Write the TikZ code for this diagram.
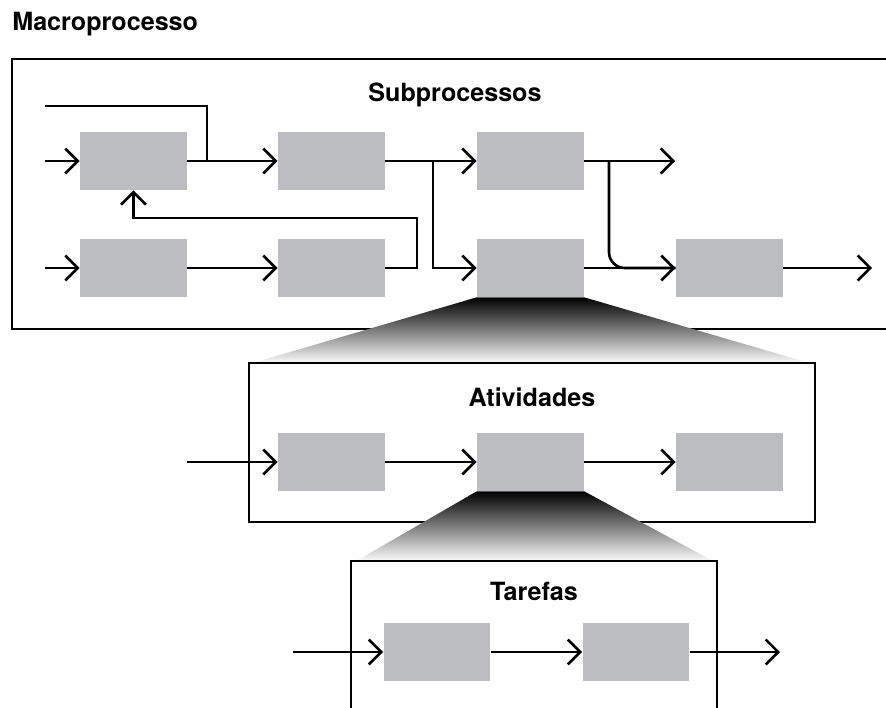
\documentclass[tikz,border=0pt]{standalone}
\usepackage{fontspec}
\setmainfont{TeX Gyre Heros}
\usetikzlibrary{arrows.meta}
\definecolor{boxgray}{RGB}{188,189,192}
\tikzset{
    box/.style={fill=boxgray, minimum width=2.14cm, minimum height=1.16cm, inner sep=0pt},
    frame/.style={draw, line width=1.5pt},
    heading/.style={font=\bfseries\fontsize{14.3}{16}\selectfont, inner sep=0pt},
    wire/.style={line width=1.5pt},
    flow/.style={wire, -{Straight Barb[length=2.5mm,width=5mm]}},
    zoomfan/.style={top color=black, bottom color=gray!6}
}
\begin{document}
\begin{tikzpicture}[x=0.02cm, y=-0.02cm]
            \useasboundingbox (0,0) rectangle (886,707);
            \clip (0,0) rectangle (886,707);

            \coordinate (inA) at (45,161);
            \coordinate (topin) at (45,106);
            \coordinate (join1) at (207,161);
            \coordinate (split1) at (433,161);
            \coordinate (split2) at (609,161);
            \coordinate (outC) at (675,161);
            \coordinate (inD) at (45,268);
            \coordinate (fb) at (417,218);
            \coordinate (outG) at (872,268);
            \coordinate (inAct) at (187,462);
            \coordinate (inTask) at (293,652);
            \coordinate (outTask) at (780,652);

            \node[heading, anchor=west] (macro) at (12,24) {Macroprocesso};

            \draw[frame] (12,59) rectangle (920,329);
            \node[heading] (sub) at (455,95) {Subprocessos};

            \node[box] (A) at (133.5,161) {};
            \node[box] (B) at (331.5,161) {};
            \node[box] (C) at (530.5,161) {};
            \node[box] (D) at (133.5,268) {};
            \node[box] (E) at (331.5,268) {};
            \node[box] (F) at (530.5,268) {};
            \node[box] (G) at (729.5,268) {};

            \shade[zoomfan] (F.south west) -- (F.south east) -- (806,362) -- (256,362) -- cycle;

            \draw[frame] (249,363) rectangle (815,522);
            \node[heading] (act) at (532,397) {Atividades};
            \node[box] (act1) at (331.5,462) {};
            \node[box] (act2) at (530.5,462) {};
            \node[box] (act3) at (729.5,462) {};

            \shade[zoomfan] (act2.south west) -- (act2.south east) -- (711,560) -- (358,560) -- cycle;

            \draw[frame] (351,561) rectangle (717,740);
            \node[heading] (task) at (534,591) {Tarefas};
            \node[box] (task1) at (437,652) {};
            \node[box] (task2) at (636,652) {};

            \draw[flow] (inA) -- (A);
            \draw[wire] (topin) -| (join1);
            \draw[flow] (A) -- (B);
            \draw[flow] (B) -- (C);
            \draw[flow] (split1) |- (F);
            \draw[flow] (C) -- (outC);
            \draw[wire, rounded corners=9pt] (split2) |- (G.west);
            \draw[flow] (F) -- (G);
            \draw[flow] (G) -- (outG);
            \draw[flow] (inD) -- (D);
            \draw[flow] (D) -- (E);
            \draw[flow] (E) -| (fb) -| (A);

            \draw[flow] (inAct) -- (act1);
            \draw[flow] (act1) -- (act2);
            \draw[flow] (act2) -- (act3);

            \draw[flow] (inTask) -- (task1);
            \draw[flow] (task1) -- (task2);
            \draw[flow] (task2) -- (outTask);

        \end{tikzpicture}
\end{document}
